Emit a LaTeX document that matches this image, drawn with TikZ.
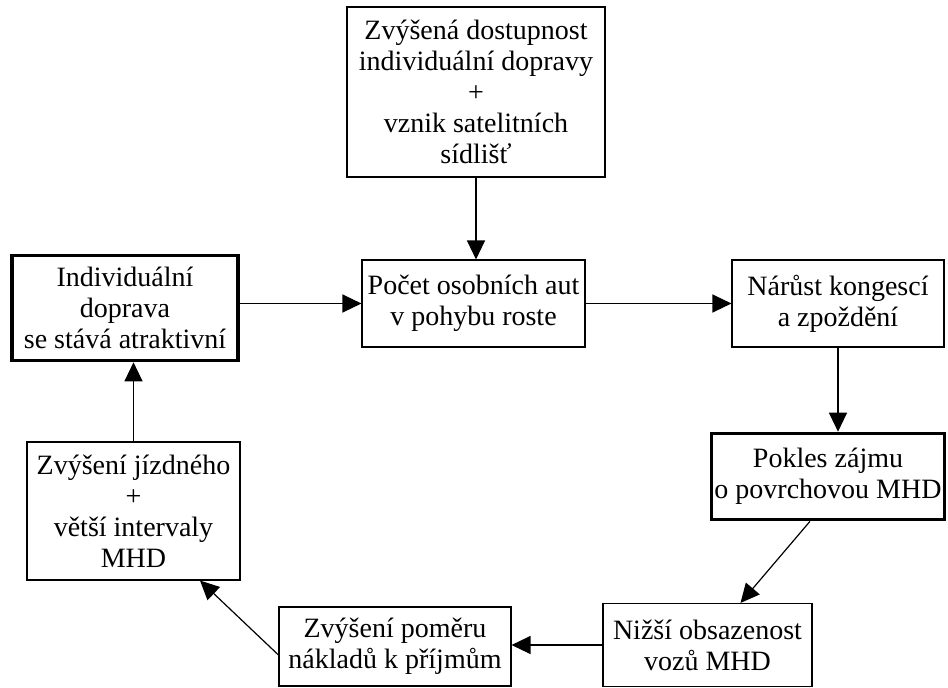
\documentclass[tikz,border=0pt]{standalone}
\usepackage{fontspec}
\setmainfont{Liberation Serif}
\usetikzlibrary{arrows.meta}

\begin{document}
\begin{tikzpicture}[x=1pt,y=-1pt,
  box/.style={draw, line width=1.1pt, align=center, inner sep=0pt,
    font=\fontsize{28}{31}\selectfont},
  thickbox/.style={box, line width=3.6pt},
  flow/.style={line width=1.2pt, -{Triangle[length=19pt,width=18pt]}}]
\useasboundingbox (0,0) rectangle (948,688);

\node [box, minimum width=258pt, minimum height=170pt] (dostup) at (476,92)
  {Zvýšená dostupnost\\individuální dopravy\\+\\vznik satelitních\\sídlišť};
\node [thickbox, minimum width=226pt, minimum height=105pt] (indiv) at (125,308)
  {Individuální\\doprava\\se stává atraktivní};
\node [box, minimum width=223pt, minimum height=87pt] (pocet) at (473.5,303.5)
  {Počet osobních aut\\v pohybu roste};
\node [box, minimum width=212pt, minimum height=87pt] (narust) at (838,303.5)
  {Nárůst kongescí\\a zpoždění};
\node [thickbox, minimum width=233pt, minimum height=86pt] (pokles) at (828,476.5)
  {Pokles zájmu\\o povrchovou MHD};
\node [box, minimum width=209pt, minimum height=83pt] (nizsi) at (707.5,645)
  {Nižší obsazenost\\vozů MHD};
\node [box, minimum width=232pt, minimum height=79pt] (pomer) at (395,646.5)
  {Zvýšení poměru\\nákladů k příjmům};
\node [box, minimum width=213pt, minimum height=138pt] (jizdne) at (133.5,511)
  {Zvýšení jízdného\\+\\větší intervaly\\MHD};

\draw [flow] (dostup.south) -- (dostup.south |- pocet.north);
\draw [flow] (pocet.west -| indiv.east) -- (pocet.west);
\draw [flow] (pocet) -- (narust);
\draw [flow] (narust.south) -- (narust.south |- pokles.north);
\draw [flow] ([xshift=-18pt]pokles.south) -- ([xshift=33pt]nizsi.north);
\draw [flow] (nizsi.west) -- (nizsi.west -| pomer.east);
\draw [flow] ([yshift=-8.5pt]pomer.west) -- ([xshift=66.5pt]jizdne.south);
\draw [flow] (jizdne.north) -- (jizdne.north |- indiv.south);

\end{tikzpicture}
\end{document}
